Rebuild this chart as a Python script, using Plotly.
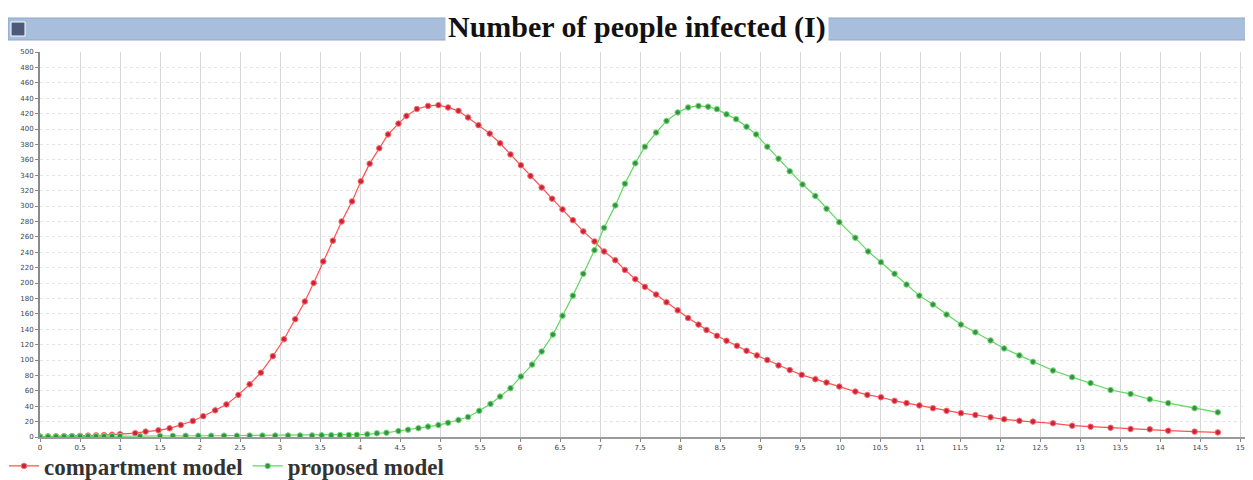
import plotly.graph_objects as go

# ---- data ----
compartment_x = [0, 0.1, 0.2, 0.3, 0.4, 0.5, 0.6, 0.7, 0.8, 0.9, 1.0, 1.19, 1.32, 1.48, 1.62, 1.76, 1.91,
                 2.04, 2.19, 2.33, 2.48, 2.62, 2.76, 2.91, 3.05, 3.19, 3.31, 3.42, 3.54, 3.66, 3.77, 3.90,
                 4.01, 4.12, 4.24, 4.35, 4.48, 4.58, 4.71, 4.85, 4.98, 5.10, 5.23, 5.35, 5.48, 5.62, 5.75,
                 5.88, 6.01, 6.13, 6.27, 6.40, 6.53, 6.66, 6.79, 6.93, 7.05, 7.19, 7.31, 7.44, 7.56, 7.70,
                 7.83, 7.97, 8.10, 8.23, 8.33, 8.46, 8.58, 8.71, 8.83, 8.96, 9.09, 9.23, 9.37, 9.52, 9.69,
                 9.83, 9.99, 10.19, 10.34, 10.51, 10.68, 10.83, 10.99, 11.16, 11.33, 11.51, 11.69, 11.88,
                 12.05, 12.24, 12.41, 12.66, 12.90, 13.13, 13.38, 13.63, 13.87, 14.10, 14.43, 14.72]
compartment_y = [0.5, 0.6, 0.8, 1.0, 1.2, 1.5, 1.8, 2.1, 2.5, 3.0, 3.6, 5, 7, 8.7, 11.3, 15.6, 20.8,
                 27, 34.6, 42.3, 54.7, 68.4, 83.5, 105, 127, 153, 176, 200, 228, 255, 280, 306,
                 332, 355, 375, 393, 407, 417, 426, 430, 431, 428, 423.6, 415, 405, 394, 381.5,
                 367, 353, 339, 324, 309.5, 295.6, 281.6, 267, 254, 241, 229.6, 217, 205, 195, 185,
                 175, 164.5, 154.5, 146, 139, 131.5, 125, 118.5, 112, 106, 100, 93, 87, 80.7, 75,
                 70.7, 65.5, 59, 54.7, 51.6, 47, 44, 41, 37.4, 34, 31, 28.6, 25.6,
                 23, 21, 20, 17.8, 14.7, 13.4, 12, 10.4, 10, 8.2, 7, 6]

proposed_x = [0, 0.1, 0.2, 0.3, 0.4, 0.5, 0.6, 0.7, 0.8, 0.9, 1.0, 1.25, 1.5, 1.66, 1.82, 1.98, 2.14,
              2.30, 2.46, 2.62, 2.78, 2.94, 3.10, 3.25, 3.40, 3.52, 3.64, 3.75, 3.86, 3.96, 4.09, 4.21,
              4.33, 4.48, 4.60, 4.73, 4.85, 4.98, 5.10, 5.23, 5.35, 5.49, 5.63, 5.75, 5.88, 6.01, 6.15,
              6.27, 6.41, 6.53, 6.66, 6.79, 6.93, 7.05, 7.19, 7.31, 7.44, 7.56, 7.70, 7.83, 7.97, 8.10,
              8.23, 8.35, 8.46, 8.58, 8.70, 8.83, 8.95, 9.09, 9.23, 9.37, 9.53, 9.69, 9.83, 9.99, 10.19,
              10.35, 10.51, 10.68, 10.83, 10.99, 11.16, 11.33, 11.51, 11.69, 11.88, 12.05, 12.24, 12.41,
              12.66, 12.90, 13.13, 13.38, 13.63, 13.87, 14.10, 14.43, 14.72]
proposed_y = [0.5, 0.6, 0.7, 0.8, 0.9, 1.0, 1.0, 1.1, 1.2, 1.2, 1.3, 1.3, 1.4, 1.5, 1.5, 1.6, 1.6,
              1.7, 1.7, 1.8, 1.8, 1.9, 2.0, 2.0, 2.1, 2.2, 2.3, 2.5, 2.6, 2.8, 3.5, 4.8,
              5.5, 7.8, 9.5, 11.5, 13.5, 15.5, 18.5, 22, 26, 34, 43, 52.5, 63.4, 78.5, 94,
              111, 133, 157.5, 183.6, 212, 242.6, 271.7, 300.8, 329, 355.5, 377, 395.4, 410.5, 421.5, 428,
              430, 429, 425.8, 419, 412.8, 403, 393, 377, 361.5, 345, 328, 313, 296.5, 279, 258.7,
              241, 227, 212, 198, 183.6, 172, 159, 146, 136, 125.4, 115, 106, 97.7,
              86.3, 77.7, 70, 61, 56, 49, 44, 37.4, 32]

x_tick_vals = [i * 0.5 for i in range(31)]
x_tick_text = [("%g" % v) for v in x_tick_vals]
y_tick_vals = list(range(0, 501, 20))

series_names = ["compartment model", "proposed model"]

fig = go.Figure()
fig.add_trace(go.Scatter(
    x=compartment_x, y=compartment_y, mode="lines+markers", name=series_names[0],
    line=dict(color="#ff5050", width=1.2),
    marker=dict(color="#c8243a", size=5.5, line=dict(color="#ff6a6a", width=1)),
))
fig.add_trace(go.Scatter(
    x=proposed_x, y=proposed_y, mode="lines+markers", name=series_names[1],
    line=dict(color="#5ed85e", width=1.2),
    marker=dict(color="#3a8f48", size=5.5, line=dict(color="#6ee06e", width=1)),
))

# page is offset by the browser's 8px body margin; positions below are page pixels
OFF = 8
W, H = 1253 - OFF, 480 - OFF
L, R, T, B = 40 - OFF, 1253 - 1245, 52 - OFF, (480 - OFF) - (437 - OFF)
pw, ph = W - L - R, H - T - B

def px2paper_x(px):
    return (px - OFF - L) / pw

def px2paper_y(py):
    return (T + ph - (py - OFF)) / ph

shapes = [
    # title bar
    dict(type="rect", xref="paper", yref="paper",
         x0=px2paper_x(8), x1=px2paper_x(1253), y0=px2paper_y(40), y1=px2paper_y(18),
         fillcolor="#a7bedc", line=dict(color="#8ea6c6", width=1), layer="above"),
    # small icon
    dict(type="rect", xref="paper", yref="paper",
         x0=px2paper_x(11), x1=px2paper_x(25), y0=px2paper_y(36), y1=px2paper_y(22),
         fillcolor="#4a5a78", line=dict(color="#ffffff", width=1), layer="above"),
]

fig.update_layout(
    width=W, height=H,
    margin=dict(l=L, r=R, t=T, b=B, autoexpand=False),
    paper_bgcolor="white", plot_bgcolor="white",
    shapes=shapes,
    annotations=[dict(
        text="<b>Number of people infected (I)</b>",
        xref="paper", yref="paper", x=px2paper_x(637), y=px2paper_y(27),
        xanchor="center", yanchor="middle", showarrow=False,
        font=dict(family="Liberation Serif", size=30, color="#111111"),
        bgcolor="white", borderpad=2,
    )],
    legend=dict(
        orientation="h", x=px2paper_x(4), y=px2paper_y(466), xanchor="left", yanchor="middle",
        font=dict(family="Liberation Serif", size=23, color="#333333", weight="bold"),
        bgcolor="rgba(0,0,0,0)", itemwidth=30, tracegroupgap=0,
    ),
    showlegend=True,
)
fig.update_xaxes(
    range=[0, 15.06], tickvals=x_tick_vals, ticktext=x_tick_text,
    showgrid=True, gridcolor="#d6d6d6", gridwidth=1,
    showline=True, linecolor="#9a9a9a", linewidth=2,
    ticks="outside", ticklen=3, tickcolor="#888888",
    tickfont=dict(family="DejaVu Sans", size=7, color="#444444"),
    zeroline=False, mirror=False,
)
fig.update_yaxes(
    range=[0, 500], tickvals=y_tick_vals,
    showgrid=True, gridcolor="#e4e4e4", gridwidth=1, griddash="dot",
    showline=True, linecolor="#8a8a8a", linewidth=2,
    ticks="outside", ticklen=3, tickcolor="#888888",
    tickfont=dict(family="DejaVu Sans", size=7, color="#444444"),
    zeroline=False,
)

fig.write_html("out.html")
